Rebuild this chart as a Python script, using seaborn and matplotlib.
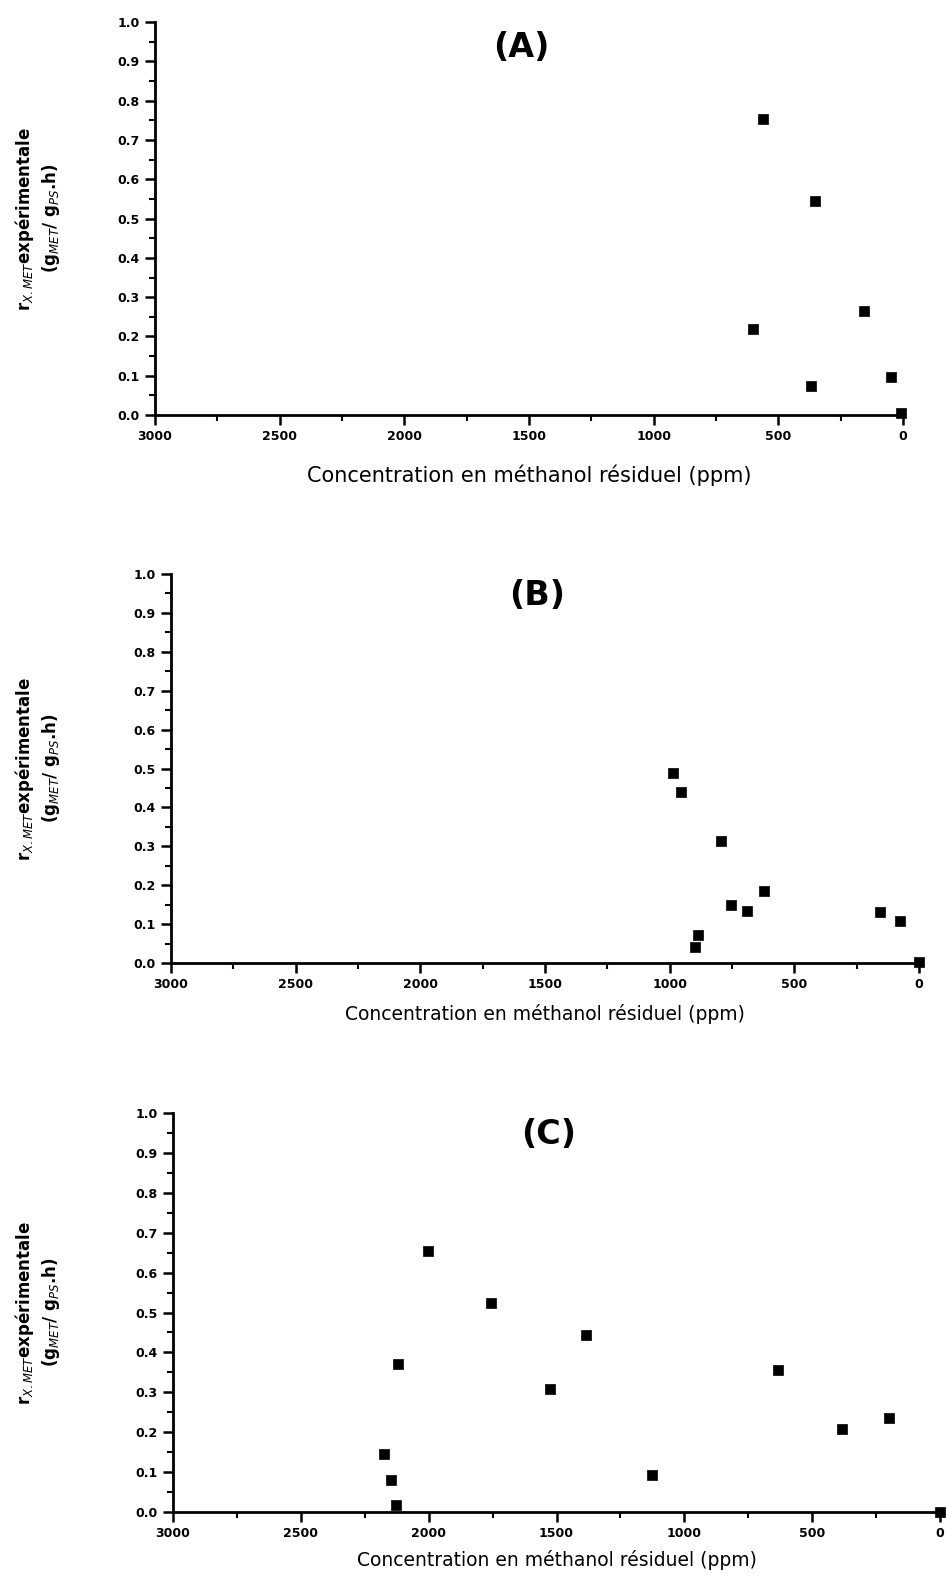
import numpy as np
import pandas as pd
import matplotlib
matplotlib.use("Agg")
import matplotlib.pyplot as plt
import matplotlib.transforms as mtransforms
import seaborn as sns
from matplotlib.ticker import MultipleLocator

# ---- data ----
a_ppm = [560, 352, 603, 156, 370, 49, 8]
a_rate = [0.753, 0.545, 0.218, 0.265, 0.075, 0.097, 0.004]

b_ppm = [988, 955, 795, 622, 756, 688, 885, 899, 158, 78, 0]
b_rate = [0.489, 0.439, 0.313, 0.185, 0.150, 0.134, 0.073, 0.041, 0.130, 0.107, 0.003]

c_ppm = [2001, 1755, 1386, 2122, 1527, 635, 383, 200, 2175, 2146, 2128, 1126, 0]
c_rate = [0.654, 0.523, 0.443, 0.370, 0.308, 0.357, 0.208, 0.236, 0.145, 0.080, 0.018, 0.092, 0.0]

panel_titles = ["(A)", "(B)", "(C)"]
x_ticks = [3000, 2500, 2000, 1500, 1000, 500, 0]
y_ticks = [0.0, 0.1, 0.2, 0.3, 0.4, 0.5, 0.6, 0.7, 0.8, 0.9, 1.0]
x_label = "Concentration en méthanol résiduel (ppm)"
y_label = "r$_{X.MET}$expérimentale\n(g$_{MET}$/ g$_{PS}$.h)"

sns.set_style("ticks")
plt.rcParams['font.family'] = ['DejaVu Sans']

fig = plt.figure(figsize=(9.46, 15.77), dpi=100)

# axes rectangles in figure fractions
rects = [
    [0.1638, 0.7368, 0.7907, 0.2492],
    [0.1808, 0.3893, 0.7907, 0.2467],
    [0.1829, 0.0412, 0.8108, 0.2530],
]
xlabel_sizes = [15, 13.5, 13.5]
xlabel_pads = [15, 9, 7]
title_y = [0.935, 0.945, 0.945]

datasets = [(a_ppm, a_rate), (b_ppm, b_rate), (c_ppm, c_rate)]

for i, (rect, (xs, ys)) in enumerate(zip(rects, datasets)):
    ax = fig.add_axes(rect)
    df = pd.DataFrame({"ppm": xs, "rate": ys})
    sns.scatterplot(data=df, x="ppm", y="rate", ax=ax, marker="s", s=60,
                    color="black", edgecolor="black", linewidth=0.5,
                    clip_on=False, zorder=5, legend=False)
    ax.set_xlim(3000, 0)
    ax.set_ylim(0, 1.0)
    ax.set_xticks(x_ticks)
    ax.set_xticklabels([str(t) for t in x_ticks])
    ax.set_yticks(y_ticks)
    ax.set_yticklabels([f"{t:.1f}" for t in y_ticks])
    ax.xaxis.set_minor_locator(MultipleLocator(250))
    ax.yaxis.set_minor_locator(MultipleLocator(0.05))
    for s in ["top", "right"]:
        ax.spines[s].set_visible(False)
    for s in ["left", "bottom"]:
        ax.spines[s].set_linewidth(2.0)
        ax.spines[s].set_color("black")
    ax.tick_params(axis="both", which="major", direction="out", length=7,
                   width=1.8, labelsize=9, colors="black", pad=4)
    ax.tick_params(axis="both", which="minor", direction="out", length=4,
                   width=1.5, colors="black")
    for lab in ax.get_xticklabels() + ax.get_yticklabels():
        lab.set_fontweight("bold")
    ax.set_xlabel(x_label, fontsize=xlabel_sizes[i], labelpad=xlabel_pads[i],
                  color="black")
    ax.set_ylabel(y_label, fontsize=12, fontweight="bold",
                  color="black", linespacing=1.3)
    trans = mtransforms.blended_transform_factory(fig.transFigure, ax.transAxes)
    ax.yaxis.set_label_coords(0.066, 0.5, transform=trans)
    ax.text(0.49, title_y[i], panel_titles[i], transform=ax.transAxes,
            ha="center", va="center", fontsize=24, fontweight="bold",
            color="black")
    ax.set_facecolor("white")

fig.savefig("out.png", dpi=100, facecolor="white")
